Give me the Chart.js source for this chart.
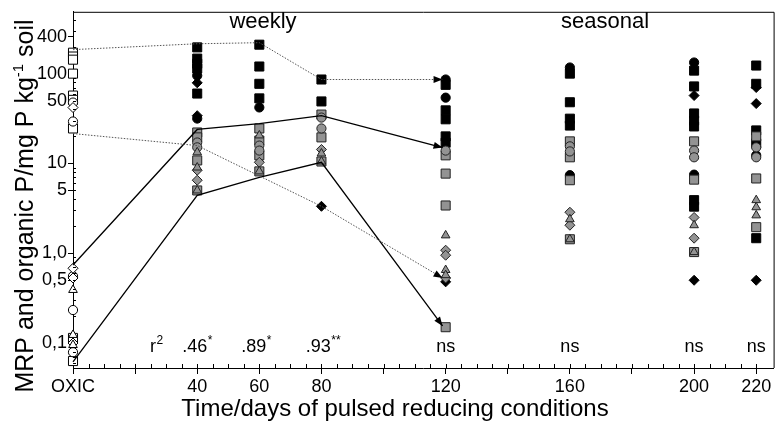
<!DOCTYPE html>
<html>
<head>
<meta charset="utf-8">
<script src="https://cdn.jsdelivr.net/npm/chart.js@4"></script>
<style>
  html, body { margin: 0; padding: 0; background: #fff; }
</style>
</head>
<body>
<canvas id="chart" width="781" height="421"></canvas>
<script>
// axis ticks
const xTickVals = [0, 20, 40, 60, 80, 100, 120, 140, 160, 180, 200, 220];
const xTickLabels = ["OXIC", "", "40", "60", "80", "", "120", "", "160", "", "200", "220"];
const yTickVals = [0.1, 0.5, 1, 5, 10, 50, 100, 258];
const yTickLabels = ["0,1", "0,5", "1,0", "5", "10", "50", "100", "400"];

// r2 row under the points
const rLabelX = [25.8, 39.2, 58.2, 79, 120, 160, 200, 220];
const rLabelText = ["r", ".46", ".89", ".93", "ns", "ns", "ns", "ns"];
const rLabelSup = ["2", "*", "*", "**", "", "", "", ""];

// oxic points (open symbols)
const openSquares = [[0, 171], [0, 155], [0, 143], [0, 100], [0, 57], [0, 51], [0, 24.5], [0, 0.114], [0, 0.063]];
const openCircles = [[0, 47.6], [0, 29.3], [0, 0.555], [0, 0.233], [0, 0.079]];
const openDiamonds = [[0, 41.9], [0, 0.68], [0, 0.53], [0, 0.1]];
const openTriangles = [[0, 0.39], [0, 0.123], [0, 0.095]];

// black symbols
const blackSquares = [
  [40, 196], [40, 147], [40, 129], [40, 114], [40, 60],
  [60, 210], [60, 120], [60, 77], [60, 53],
  [80, 86], [80, 49],
  [120, 75], [120, 39], [120, 31], [120, 20], [120, 17],
  [160, 100], [160, 48], [160, 31.5], [160, 26.4],
  [200, 108], [200, 72], [200, 36], [200, 30], [200, 25.8], [200, 3.9], [200, 3.3],
  [220, 123], [220, 77], [220, 23.3], [220, 16.7], [220, 1.47]
];
const blackCircles = [[40, 95], [40, 31.6], [60, 42], [120, 86], [120, 54], [160, 117], [160, 7.4], [200, 133], [200, 7.5], [220, 12.3]];
const blackDiamonds = [[40, 79], [40, 34], [80, 3.33], [120, 0.48], [200, 57], [200, 0.5], [220, 70], [220, 46.4], [220, 0.5]];

// grey symbols
const graySquares = [
  [40, 22.1], [40, 19.5], [40, 10.8], [40, 5.0],
  [60, 24.5], [60, 18], [60, 12.3], [60, 8.15],
  [80, 35], [80, 19.5], [80, 10.5],
  [120, 12.3], [120, 7.7], [120, 3.4], [120, 0.15],
  [160, 17.6], [160, 11.7], [160, 6.5], [160, 1.43],
  [200, 17.6], [200, 6.6], [200, 1.03],
  [220, 20], [220, 6.8], [220, 1.95]
];
const grayCircles = [[40, 17.1], [40, 15.1], [60, 15.8], [60, 13.9], [80, 32.4], [80, 24.5], [120, 13.9], [160, 15.5], [160, 13.6], [200, 13.9], [200, 11.7], [220, 15.1], [220, 11.7]];
const grayTriangles = [[40, 13.3], [40, 9.0], [40, 5.0], [60, 20.5], [60, 8.15], [80, 12.9], [80, 10.5], [120, 1.58], [120, 0.65], [120, 0.57], [160, 2.39], [160, 1.43], [200, 2.05], [200, 1.03], [220, 3.9], [220, 3.25], [220, 2.64]];
const grayDiamonds = [[40, 8.4], [40, 6.5], [60, 10.3], [80, 14.3], [120, 1.08], [120, 0.95], [120, 0.53], [160, 2.86], [160, 2.05], [200, 2.5], [200, 1.47]];

// connecting lines (end with arrow at 120)
const lineDays = [0, 40, 60, 80, 119];
const topDotted = [185, 215, 221, 86, 86];
const upperSolid = [0.74, 23.9, 27.8, 34.1, 15];
const lowerSolid = [0.0615, 4.4, 7.0, 10.3, 0.155];
const lowDottedDays = [0, 40, 80, 119];
const lowDotted = [21.5, 15.8, 3.33, 0.53];

const FONT = "'Liberation Sans', Arial, sans-serif";
const GRAY = "#939393";

const pts = arr => arr.map(p => ({ x: p[0], y: p[1] }));
const line = (xs, ys) => xs.map((x, i) => ({ x, y: ys[i] }));

function marks(data, style, fill, border, radius, order) {
  return {
    data: pts(data),
    pointStyle: style,
    pointRadius: radius,
    pointBackgroundColor: fill,
    pointBorderColor: border,
    pointBorderWidth: 1,
    showLine: false,
    clip: false,
    order
  };
}

function connector(data, dotted, order) {
  return {
    type: "line",
    data,
    showLine: true,
    pointRadius: 0,
    borderColor: dotted ? "#555" : "#000",
    borderWidth: dotted ? 1 : 1.3,
    borderDash: dotted ? [1.5, 1.5] : [],
    tension: 0,
    fill: false,
    clip: false,
    arrow: true,
    order
  };
}

function drawSup(ctx, text, sup, cx, y, size, supSize, rise) {
  ctx.font = size + "px " + FONT;
  const w = ctx.measureText(text).width;
  ctx.textAlign = "left";
  ctx.fillText(text, cx - w / 2, y);
  if (sup) {
    ctx.font = supSize + "px " + FONT;
    ctx.fillText(sup, cx + w / 2 + 0.5, y - rise);
  }
}

const decor = {
  id: "decor",
  afterDatasetsDraw(chart) {
    const ctx = chart.ctx;
    chart.data.datasets.forEach((ds, i) => {
      if (!ds.arrow) return;
      const el = chart.getDatasetMeta(i).data;
      const a = el[el.length - 2], b = el[el.length - 1];
      const ang = Math.atan2(b.y - a.y, b.x - a.x);
      ctx.save();
      ctx.translate(b.x, b.y);
      ctx.rotate(ang);
      ctx.beginPath();
      ctx.moveTo(0, 0);
      ctx.lineTo(-9, -3.5);
      ctx.lineTo(-9, 3.5);
      ctx.closePath();
      ctx.fillStyle = "#000";
      ctx.fill();
      ctx.restore();
    });
  },
  afterDraw(chart) {
    const ctx = chart.ctx;
    const { left, right, top, bottom } = chart.chartArea;
    const xs = chart.scales.x, ys = chart.scales.y;
    ctx.save();
    ctx.strokeStyle = "#000";
    ctx.fillStyle = "#000";
    ctx.lineWidth = 1;

    // frame top and right
    ctx.beginPath();
    ctx.moveTo(left, top + 0.5);
    ctx.lineTo(right + 0.5, top + 0.5);
    ctx.lineTo(right + 0.5, bottom);
    ctx.stroke();

    // inner ticks
    ctx.beginPath();
    for (let v = 5; v <= 220; v += 5) {
      const px = Math.round(xs.getPixelForValue(v)) + 0.5;
      ctx.moveTo(px, bottom);
      ctx.lineTo(px, bottom - 4);
    }
    for (let d = -2; d <= 2; d++) {
      for (let k = 2; k <= 9; k++) {
        const v = k * Math.pow(10, d);
        if (v < ys.min || v > ys.max) continue;
        const py = Math.round(ys.getPixelForValue(v)) + 0.5;
        ctx.moveTo(left, py);
        ctx.lineTo(left + 3, py);
      }
    }
    ctx.stroke();

    // headings
    ctx.textBaseline = "alphabetic";
    ctx.textAlign = "center";
    ctx.font = "22px " + FONT;
    ctx.fillText("weekly", 263, 28);
    ctx.fillText("seasonal", 605, 28);

    // r2 row
    rLabelText.forEach((t, i) => {
      drawSup(ctx, t, rLabelSup[i], xs.getPixelForValue(rLabelX[i]), 352, 18, 12, 8);
    });

    // x title
    ctx.textAlign = "center";
    ctx.font = "24px " + FONT;
    ctx.fillText("Time/days of pulsed reducing conditions", 395, 416);

    // y title, rotated
    ctx.translate(33, 206);
    ctx.rotate(-Math.PI / 2);
    const a = "MRP and organic P/mg P kg", s = "-1", b = " soil";
    ctx.font = "25px " + FONT;
    const wa = ctx.measureText(a).width, wb = ctx.measureText(b).width;
    ctx.font = "15px " + FONT;
    const ws = ctx.measureText(s).width;
    let x0 = -(wa + ws + wb) / 2;
    ctx.textAlign = "left";
    ctx.font = "25px " + FONT;
    ctx.fillText(a, x0, 0);
    ctx.font = "15px " + FONT;
    ctx.fillText(s, x0 + wa, -10);
    ctx.font = "25px " + FONT;
    ctx.fillText(b, x0 + wa + ws, 0);
    ctx.restore();
  }
};

new Chart(document.getElementById("chart"), {
  type: "scatter",
  data: {
    datasets: [
      connector(line(lineDays, topDotted), true, 0),
      connector(line(lowDottedDays, lowDotted), true, 0),
      connector(line(lineDays, upperSolid), false, 0),
      connector(line(lineDays, lowerSolid), false, 0),
      marks(grayTriangles, "triangle", GRAY, "#222", 5, 1),
      marks(grayDiamonds, "rectRot", GRAY, "#222", 5, 2),
      marks(grayCircles, "circle", GRAY, "#222", 4.6, 3),
      marks(graySquares, "rect", GRAY, "#222", 6.4, 4),
      marks(blackDiamonds, "rectRot", "#000", "#000", 5, 5),
      marks(blackCircles, "circle", "#000", "#000", 4.6, 6),
      marks(blackSquares, "rect", "#000", "#000", 6.4, 7),
      marks(openTriangles, "triangle", "#fff", "#000", 5, 8),
      marks(openDiamonds, "rectRot", "#fff", "#000", 5, 8),
      marks(openCircles, "circle", "#fff", "#000", 4.6, 8),
      marks(openSquares, "rect", "#fff", "#000", 6.4, 8)
    ]
  },
  options: {
    responsive: false,
    animation: false,
    devicePixelRatio: 1,
    layout: { padding: { top: 11, right: 3, left: 0, bottom: 0 } },
    plugins: { legend: { display: false }, tooltip: { enabled: false } },
    scales: {
      x: {
        type: "linear",
        min: 0,
        max: 225.6,
        afterBuildTicks: s => { s.ticks = xTickVals.map(v => ({ value: v })); },
        afterFit: s => { s.height = 53; },
        ticks: {
          callback: v => xTickLabels[xTickVals.indexOf(v)],
          font: { family: FONT, size: 18 },
          color: "#000",
          maxRotation: 0,
          autoSkip: false,
          padding: 2
        },
        grid: { drawOnChartArea: false, tickLength: 6, color: "#000" },
        border: { color: "#000", width: 1 }
      },
      y: {
        type: "logarithmic",
        min: 0.0527,
        max: 488,
        afterBuildTicks: s => { s.ticks = yTickVals.map(v => ({ value: v })); },
        afterFit: s => { s.width = 73; },
        ticks: {
          callback: v => yTickLabels[yTickVals.indexOf(v)],
          font: { family: FONT, size: 18 },
          color: "#000",
          autoSkip: false,
          padding: 1
        },
        grid: { drawOnChartArea: false, tickLength: 5, color: "#000" },
        border: { color: "#000", width: 1 }
      }
    }
  },
  plugins: [decor]
});
</script>
</body>
</html>
